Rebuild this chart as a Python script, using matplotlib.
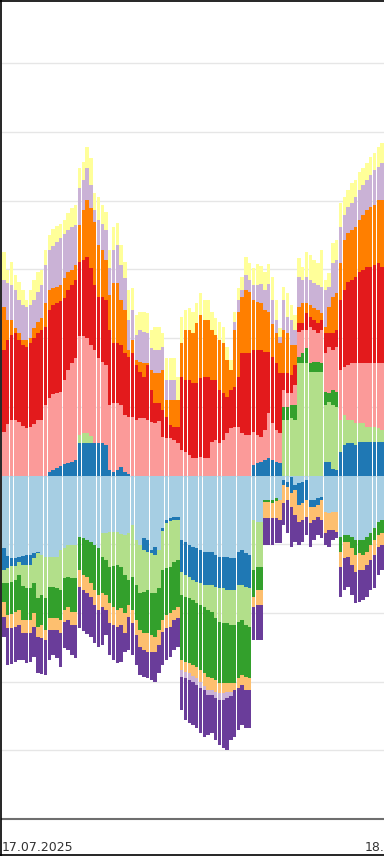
import numpy as np
import matplotlib
matplotlib.use("Agg")
import matplotlib.pyplot as plt
from matplotlib.lines import Line2D
from matplotlib.transforms import blended_transform_factory

# Viertelstundenwerte ab 17.07.2025 00:00 (positiv = Import, negativ = Export)
# Reihenfolge der Reihen = Stapelreihenfolge, Farben aus der Paired-Palette
lightblue = [-72, -80, -82, -82, -81, -80, -79, -79, -77, -76, -79, -81,
             -81, -81, -81, -74, -72, -69, -69, -69,
             -61, -62, -64, -66, -69, -72,
             -57, -57, -56, -56, -56, -58, -59,
             -57, -49, -64, -69, -62, -64, -74, -71, -74, -52, -44, -42, -41, -41,
             -64, -66, -69, -71, -72, -74, -76, -76, -76, -79, -81, -81, -81, -82, -82, -76, -74, -77, -79,
             -44, -46, -46, -24, -24, -24, -22, -24,
             -4, -6, -1, -9, -7, -6, -4, -24, -24, -22, -21, -36, -37, -36, -36,
             -61, -59, -59, -61, -64, -64, -64, -61, -57, -52, -46, -44]
blue = [-22, -12, -8, -8, -5, -9, -10, -10, -5, -1, 0, 0,
        4, 6, 8, 10, 12, 13, 14, 16,
        33, 33, 33, 33, 33, 33, 33, 31,
        6, 4, 6, 9, 4,
        2, 0, 0, 0, -12, -12, -3, -8, 0, -3, -3, -3, -3, -3,
        -32, -33, -32, -33, -34, -33, -33, -33, -33, -32, -31, -31, -33, -32, -32, -33, -35, -34, -33,
        11, 13, 14, 16, 18, 16, 14, 13,
        -5, -5, -16, -5, -22, -21, -20, -7, -7, -7, -3, 14, 14, 7, 6,
        24, 31, 33, 33, 31, 34, 34, 34, 34, 34, 34, 34]
lightgreen = [-13, -15, -16, -14, -13, -21, -23, -23, -25, -45, -40, -41,
              -30, -30, -31, -40, -30, -32, -33, -33,
              8, 10, 10, 7, 0, 0,
              -24, -27, -35, -34, -33, -33, -40,
              -47, -52, -45, -48, -42, -38, -40, -38, -38, -39, -45, -46, -42, -40,
              -23, -22, -21, -20, -21, -22, -22, -25, -27, -31, -34, -35, -33, -35, -35, -37, -35, -38, -39,
              -50, -45, -45, 0, 0, 0, 0, 0,
              56, 56, 58, 56, 113, 113, 113, 104, 104, 104, 104, 57, 60, 64, 63,
              32, 30, 23, 23, 22, 19, 19, 15, 15, 15, 14, 12]
green = [-19, -32, -32, -32, -35, -34, -32, -32, -30, -29, -30, -32,
         -31, -31, -30, -30, -32, -30, -34, -34,
         -33, -37, -37, -41, -45, -47,
         -36, -35, -36, -41, -45, -41, -38,
         -25, -33, -35, -37, -41, -43, -42, -44, -42, -50, -47, -46, -48, -47,
         -65, -65, -65, -65, -64, -65, -66, -67, -66, -62, -61, -60, -60, -58, -58, -56, -55, -52, -51,
         -27, -23, -23, -2, -2, -3, -3, 0,
         13, 13, 13, 15, 6, 10, 15, 9, 10, 10, 9, 13, 9, 15, 15,
         -15, -7, -7, -11, -15, -13, -15, -15, -12, -12, -13, -13]
pink = [44, 52, 56, 56, 54, 50, 48, 49, 52, 56, 56, 71,
        74, 76, 75, 74, 84, 93, 99, 102,
        99, 97, 95, 91, 93, 85,
        81, 80, 65, 69, 67, 62, 57,
        57, 59, 56, 58, 58, 56, 54, 53, 55, 39, 38, 38, 36, 33,
        26, 24, 21, 18, 18, 19, 18, 18, 34, 36, 33, 36, 43, 48, 49, 49, 43, 41, 41,
        33, 28, 25, 30, 45, 37, 32, 30,
        17, 14, 12, 20, 25, 23, 18, 36, 32, 29, 33, 39, 46, 40, 45,
        50, 48, 55, 57, 60, 60, 60, 64, 64, 64, 65, 67]
red = [82, 84, 85, 87, 82, 81, 81, 84, 86, 87, 90, 78,
       88, 89, 90, 91, 82, 80, 78, 78,
       74, 76, 81, 77, 65, 61,
       65, 65, 75, 60, 60, 60, 62,
       60, 64, 55, 46, 41, 55, 32, 20, 18, 27, 21, 13, 13, 16,
       73, 72, 75, 75, 75, 79, 81, 81, 62, 60, 53, 47, 36, 38, 40, 50, 80, 82, 82,
       82, 85, 87, 78, 61, 66, 67, 60,
       17, 20, 18, 20, 9, 7, 17, 10, 10, 10, 10, 20, 14, 17, 17,
       70, 77, 83, 83, 86, 91, 93, 96, 96, 98, 100, 96]
lightorange = [-15, -13, -14, -15, -15, -13, -13, -13, -14, -10, -13, -10,
               -12, -12, -12, -13, -12, -13, -13, -13,
               -17, -15, -16, -14, -15, -15,
               -14, -15, -20, -18, -17, -17, -20,
               -12, -13, -15, -17, -17, -19, -17, -15, -15, -12, -13, -14, -10, -11,
               -10, -10, -10, -11, -11, -12, -13, -13, -12, -12, -10, -10, -9, -9, -7, -10, -10, -13, -12,
               -10, -15, -15, -16, -16, -15, -17, -20,
               -18, -13, -14, -25, -17, -17, -17, -16, -13, -12, -20, -21, -17, -18, -20,
               -15, -16, -15, -17, -17, -17, -15, -13, -15, -15, -12, -12]
orange = [43, 20, 15, 5, 7, 5, 7, 5, 10, 11, 12, 24,
          20, 17, 16, 16, 20, 18, 15, 15,
          37, 50, 57, 60, 63, 52,
          47, 40, 35, 60, 60, 45, 43,
          7, 13, 5, 10, 14, 2, 20, 30, 30, 40, 17, 25, 27, 27,
          34, 50, 50, 50, 60, 63, 57, 57, 50, 45, 50, 50, 37, 20, 57, 65, 56, 63, 61,
          50, 48, 47, 42, 40, 33, 30, 30,
          43, 40, 30, 20, 16, 20, 10, 12, 12, 13, 7, 6, 26, 36, 37,
          37, 50, 49, 50, 50, 52, 55, 57, 60, 60, 63, 67]
lightpurple = [27, 37, 35, 38, 33, 35, 33, 33, 28, 30, 33, 38,
               40, 42, 45, 47, 44, 42, 43, 40,
               37, 30, 32, 23, 12, 25,
               26, 30, 27, 33, 38, 35, 32,
               30, 30, 25, 32, 31, 30, 22, 23, 23, 23, 20, 20, 20, 0,
               -7, -6, -7, -6, -7, -6, -4, -5, -5, -6, -7, -7, -6, -4, 8, 12, 7, 15, 12,
               15, 17, 19, 20, 28, 24, 13, 6,
               30, 16, 25, 15, 30, 23, 26, 25, 25, 25, 26, 37, 20, 34, 33,
               36, 25, 26, 27, 30, 30, 30, 30, 32, 35, 33, 37]
purple = [-20, -37, -36, -35, -35, -27, -30, -29, -30, -36, -36, -35,
          -30, -25, -28, -34, -26, -30, -30, -33,
          -41, -41, -41, -40, -38, -37,
          -38, -25, -32, -35, -36, -37, -19,
          -33, -32, -30, -28, -27, -26, -28, -30, -28, -33, -32, -30, -30, -29,
          -33, -42, -43, -43, -43, -45, -47, -40, -38, -42, -45, -48, -52, -44, -47, -42, -40, -38, -38,
          -33, -35, -35, -27, -27, -27, -25, -23,
          -22, -33, -40, -27, -23, -22, -18, -24, -20, -18, -18, -12, -17, -10, -6,
          -30, -32, -30, -30, -31, -32, -30, -32, -30, -33, -28, -25]
yellow = [28, 13, 23, 15, 18, 15, 7, 15, 20, 20, 15, 15,
          15, 17, 16, 14, 14, 17, 19, 20,
          20, 18, 21, 27, 17, 23,
          19, 18, 18, 23, 22, 20, 16,
          30, 22, 20, 18, 20, 20, 18, 23, 23, 14, 22, 22, 22, 23,
          26, 20, 22, 21, 20, 22, 20, 20, 18, 17, 18, 16, 13, 10, 10, 12, 13, 18, 17,
          17, 21, 18, 18, 20, 23, 20, 9,
          13, 24, 15, 15, 19, 13, 25, 25, 23, 22, 37, 10, 14, 20, 20,
          24, 18, 17, 20, 17, 18, 17, 17, 18, 17, 20, 20]

series = [lightblue, blue, lightgreen, green, pink, red,
          lightorange, orange, lightpurple, purple, yellow]
colors = ["#a6cee3", "#1f78b4", "#b2df8a", "#33a02c", "#fb9a99", "#e31a1c",
          "#fdbf6f", "#ff7f00", "#cab2d6", "#6a3d9a", "#ffff99"]

day_ticks = [-0.5, 95.5]          # Mitternacht 17.07. / 18.07.
day_labels = ["17.07.2025", "18.07.2025"]

n = len(yellow)
x = np.arange(n)

fig = plt.figure(figsize=(3.84, 8.56), dpi=100)
ax = fig.add_axes([2 / 384, 37 / 856, 382 / 384, 819 / 856])

# positive und negative Werte getrennt stapeln
pos_base = np.zeros(n)
neg_base = np.zeros(n)
for vals, col in zip(series, colors):
    v = np.array(vals, dtype=float)
    p = np.clip(v, 0, None)
    m = np.clip(v, None, 0)
    ax.bar(x, p, bottom=pos_base, width=0.9, color=col, linewidth=0, zorder=2)
    ax.bar(x, m, bottom=neg_base, width=0.9, color=col, linewidth=0, zorder=2)
    pos_base += p
    neg_base += m

ax.set_xlim(-0.5, n - 0.5)
ax.set_ylim(-343.5, 475.5)
ax.set_yticks(np.arange(-5, 7) * 68.7)
ax.yaxis.grid(True, color="#e6e6e6", linewidth=1.0)
ax.set_axisbelow(True)
ax.tick_params(left=False, labelleft=False, bottom=False, labelbottom=False)
for s in ["top", "left", "right"]:
    ax.spines[s].set_visible(False)
ax.spines["bottom"].set_color("#6e6e6e")
ax.spines["bottom"].set_linewidth(1.5)

# Datumsbeschriftung unter der Achse (die zweite wird wie im Original am Rand abgeschnitten)
trans = blended_transform_factory(ax.transData, fig.transFigure)
for t, lab in zip(day_ticks, day_labels):
    ax.text(t, 5 / 856, lab, transform=trans, ha="left", va="baseline",
            fontsize=9, color="#333333", clip_on=False)

# schwarzer Rahmen des Ausschnitts (links, oben, unten)
fig.add_artist(Line2D([0.6 / 384, 0.6 / 384], [0, 1], color="black", lw=1.2, transform=fig.transFigure))
fig.add_artist(Line2D([0, 1], [855.4 / 856, 855.4 / 856], color="black", lw=1.2, transform=fig.transFigure))
fig.add_artist(Line2D([0, 1], [0.6 / 856, 0.6 / 856], color="black", lw=1.2, transform=fig.transFigure))

fig.savefig("out.png", dpi=100)
